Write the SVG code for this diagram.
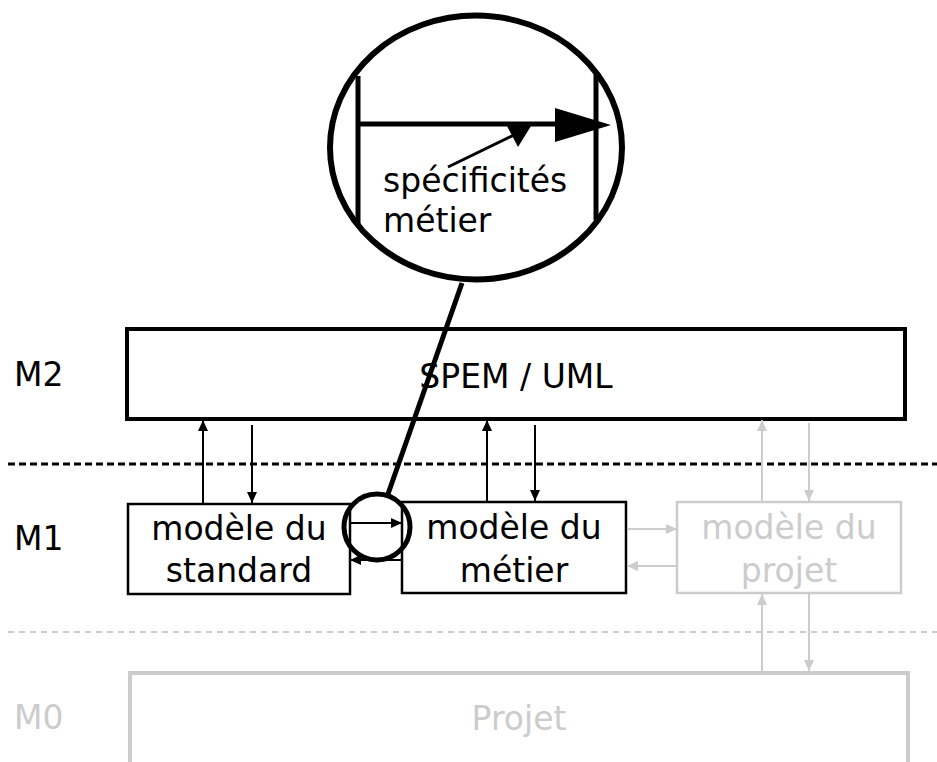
<svg xmlns="http://www.w3.org/2000/svg" width="937" height="762" viewBox="0 0 937 762">
<style>
text{font-family:"DejaVu Sans","Liberation Sans",sans-serif;font-size:33px;fill:#000}
.g{fill:#cccccc}
.mid{text-anchor:middle}
.box{fill:#fff;stroke:#000;stroke-width:2.5}
.gbox{fill:#fff;stroke:#cccccc;stroke-width:2.5}
.arr{stroke:#000;stroke-width:2;fill:none;marker-end:url(#ah)}
.garr{stroke:#cccccc;stroke-width:2;fill:none;marker-end:url(#gah)}
</style>
<defs>
<marker id="ah" markerUnits="userSpaceOnUse" markerWidth="11" markerHeight="10" refX="11" refY="5" orient="auto"><path d="M0,0 L11,5 L0,10 z" fill="#000"/></marker>
<marker id="gah" markerUnits="userSpaceOnUse" markerWidth="11" markerHeight="10" refX="11" refY="5" orient="auto"><path d="M0,0 L11,5 L0,10 z" fill="#cccccc"/></marker>
</defs>
<rect width="937" height="762" fill="#fff"/>

<g id="levels">
<line x1="8" y1="464" x2="937" y2="464" stroke="#000" stroke-width="3" stroke-dasharray="7,4"/>
<line x1="8" y1="632" x2="937" y2="632" stroke="#cccccc" stroke-width="2" stroke-dasharray="6,5"/>
<text x="14" y="386">M2</text>
<text x="14" y="550">M1</text>
<text x="14" y="729" class="g">M0</text>
</g>

<g id="spem">
<rect x="127" y="329" width="778" height="90" fill="#fff" stroke="#000" stroke-width="4"/>
<text x="516" y="388" class="mid">SPEM / UML</text>
</g>

<g id="projet">
<rect x="130" y="673" width="778" height="110" fill="#fff" stroke="#cccccc" stroke-width="4"/>
<text x="519" y="730" class="mid g">Projet</text>
</g>

<g id="standard">
<rect x="128" y="504" width="222" height="90" class="box"/>
<text x="239" y="540" class="mid">modèle du</text>
<text x="239" y="582" class="mid">standard</text>
</g>

<g id="metier">
<rect x="402" y="502" width="224" height="91" class="box"/>
<text x="514" y="539" class="mid">modèle du</text>
<text x="514" y="582" class="mid">métier</text>
</g>

<g id="projetModel">
<rect x="677" y="502" width="224" height="91" class="gbox"/>
<text x="789" y="539" class="mid g">modèle du</text>
<text x="789" y="582" class="mid g">projet</text>
</g>

<g id="connectors">
<line x1="203" y1="503" x2="203" y2="420" class="arr"/>
<line x1="252" y1="425" x2="252" y2="503" class="arr"/>
<line x1="487" y1="501" x2="487" y2="420" class="arr"/>
<line x1="535" y1="425" x2="535" y2="501" class="arr"/>
<line x1="351" y1="523" x2="402" y2="523" class="arr"/>
<line x1="402" y1="560" x2="350" y2="560" class="arr"/>
<line x1="627" y1="529" x2="677" y2="529" class="garr"/>
<line x1="677" y1="566" x2="627" y2="566" class="garr"/>
<line x1="762" y1="501" x2="762" y2="420" class="garr"/>
<line x1="809" y1="423" x2="809" y2="501" class="garr"/>
<line x1="762" y1="671" x2="762" y2="594" class="garr"/>
<line x1="809" y1="594" x2="809" y2="671" class="garr"/>
</g>

<g id="zoom">
<circle cx="377" cy="527" r="33" fill="none" stroke="#000" stroke-width="5"/>
<line x1="388" y1="494" x2="462" y2="283" stroke="#000" stroke-width="5"/>
<ellipse cx="476" cy="147.5" rx="146" ry="132" fill="#fff" stroke="#000" stroke-width="6"/>
<line x1="358" y1="76" x2="358" y2="225" stroke="#000" stroke-width="5"/>
<line x1="596" y1="73" x2="596" y2="220" stroke="#000" stroke-width="5"/>
<line x1="358" y1="124" x2="560" y2="124" stroke="#000" stroke-width="5"/>
<polygon points="555,108 611,125 555,142" fill="#000"/>
<line x1="448" y1="167" x2="516" y2="134" stroke="#000" stroke-width="3"/>
<polygon points="507,126 531,126 518,147" fill="#000"/>
<text x="383" y="192">spécificités</text>
<text x="383" y="232">métier</text>
</g>
</svg>
